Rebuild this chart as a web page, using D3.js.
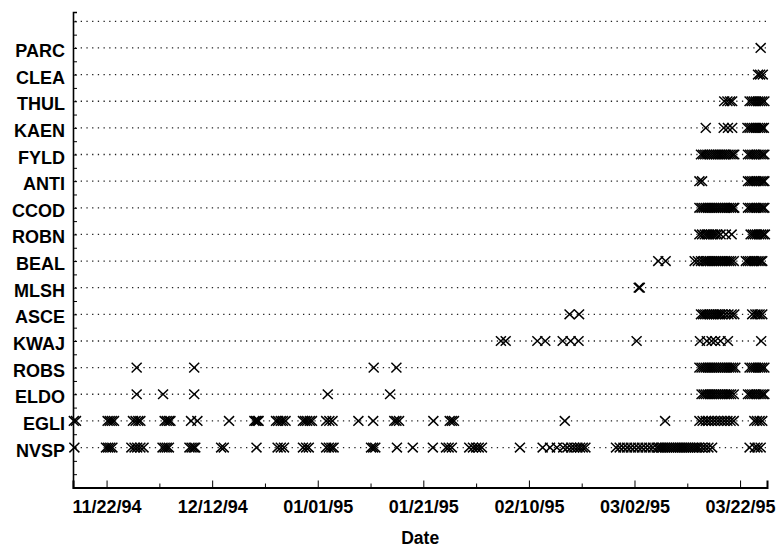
<!DOCTYPE html>
<html>
<head>
<meta charset="utf-8">
<script src="https://cdn.jsdelivr.net/npm/d3@7"></script>
<style>
  html, body { margin: 0; padding: 0; background: #fff; }
  svg { display: block; font-family: "Liberation Sans", Arial, sans-serif; }
</style>
</head>
<body>
<svg id="chart" width="777" height="548"></svg>
<script>
// ---- data (day offsets from 11/22/94) ----
const stations = ["NVSP","EGLI","ELDO","ROBS","KWAJ","ASCE","MLSH","BEAL","ROBN","CCOD","ANTI","FYLD","KAEN","THUL","CLEA","PARC"];
const tickLabels = ["11/22/94","12/12/94","01/01/95","01/21/95","02/10/95","03/02/95","03/22/95"];
const minorTickLabels = ["12/02/94","12/22/94","01/11/95","01/31/95","02/20/95","03/12/95"];
const xTitle = "Date";

const NVSP = [-6.1, -0.1, 0.3, 0.7, 1.1, 4.7, 5.3, 5.8, 6.4, 7.0, 10.6, 11.0, 11.4, 11.8, 15.7, 16.1, 16.5, 16.8, 21.7, 22.2, 28.4, 32.4, 33.0, 33.6, 37.2, 37.8, 38.3, 41.6, 42.1, 42.6, 43.0, 50.1, 50.5, 50.9, 55.0, 58.0, 61.8, 64.3, 64.8, 65.4, 68.7, 69.4, 70.0, 70.5, 71.1, 78.3, 82.6, 84.0, 85.3, 86.5, 87.3, 88.0, 88.6, 89.2, 89.7, 90.2, 90.7,
  96.5, 97.2, 97.9, 98.6, 99.3, 100.0, 100.7, 101.4, 102.1, 102.8, 103.5, 104.2, 104.6, 105.0, 105.4, 105.8, 106.2, 106.6, 107.0, 107.4, 107.8, 108.2, 108.6, 109.0, 109.4, 109.8, 110.2, 110.6, 111.0, 111.4, 111.8, 112.2, 112.8, 113.4, 114.0, 114.7, 121.8, 122.8, 123.3, 123.9];
const EGLI = [-6.2, -5.8, 0.2, 0.6, 1.0, 1.4, 5.0, 5.5, 6.0, 6.4, 11.0, 11.4, 11.8, 12.1, 16.0, 17.2, 23.2, 28.0, 28.3, 28.6, 28.8, 32.1, 32.5, 33.0, 33.4, 33.9, 37.2, 37.6, 38.0, 38.5, 38.9, 41.6, 42.2, 42.8, 47.7, 50.5, 54.5, 54.9, 55.4, 61.9, 65.0, 65.4, 65.8, 86.8, 105.8,
  112.3, 112.9, 113.5, 114.0, 114.6, 115.2, 115.8, 116.4, 117.0, 117.6, 118.2, 118.8, 122.7, 123.2, 123.7, 124.2];
const ELDO = [5.7, 10.7, 16.6, 41.9, 53.7, 112.7, 113.1, 113.5, 113.9, 114.3, 114.7, 115.1, 115.5, 115.9, 116.3, 116.7, 117.1, 117.5, 117.9, 118.3, 118.8, 121.5, 121.9, 122.3, 122.7, 123.1, 123.5, 123.9, 124.3, 124.6];
const ROBS = [5.7, 16.6, 50.6, 54.9, 112.3, 112.7, 113.1, 113.5, 113.9, 114.3, 114.7, 115.1, 115.5, 115.9, 116.3, 116.7, 117.1, 117.5, 117.9, 118.3, 118.7, 119.1, 121.8, 122.2, 122.6, 123.0, 123.4, 123.8, 124.2, 124.6];
const KWAJ = [74.7, 75.6, 81.6, 83.1, 86.4, 87.9, 89.4, 100.4, 112.4, 113.7, 114.6, 115.3, 116.3, 117.7, 124.0];
const ASCE = [87.7, 89.5, 112.6, 113.0, 113.4, 113.8, 114.2, 114.6, 115.0, 115.4, 115.8, 116.2, 116.6, 117.2, 117.8, 118.4, 118.9, 122.3, 122.9, 123.3, 123.7, 124.2];
const MLSH = [100.8, 101.0];
const BEAL = [104.5, 105.9, 111.4, 112.0, 112.6, 113.1, 113.5, 113.9, 114.3, 114.7, 115.1, 115.5, 115.9, 116.3, 116.7, 117.1, 117.5, 117.9, 118.3, 118.8, 121.1, 121.5, 121.9, 122.3, 122.7, 123.1, 123.5, 123.9, 124.2];
const ROBN = [112.3, 112.8, 113.3, 113.7, 114.1, 114.5, 114.9, 115.3, 115.7, 116.3, 117.3, 118.4, 122.0, 122.4, 122.8, 123.2, 123.6, 124.0, 124.4, 124.7];
const CCOD = [112.3, 112.7, 113.1, 113.5, 113.9, 114.3, 114.7, 115.1, 115.5, 115.9, 116.3, 116.7, 117.1, 117.5, 117.9, 118.3, 118.7, 118.9, 121.5, 121.9, 122.3, 122.7, 123.1, 123.5, 123.9, 124.3, 124.6];
const ANTI = [112.3, 112.8, 121.5, 121.9, 122.3, 122.7, 123.1, 123.5, 123.9, 124.3, 124.6];
const FYLD = [112.6, 113.0, 113.4, 113.8, 114.2, 114.6, 115.0, 115.4, 115.8, 116.2, 116.6, 117.0, 117.4, 117.8, 118.2, 118.6, 118.9, 121.5, 121.9, 122.3, 122.7, 123.1, 123.5, 123.9, 124.3, 124.6];
const KAEN = [113.5, 116.9, 117.7, 118.5, 121.4, 121.8, 122.2, 122.6, 123.0, 123.4, 123.8, 124.2, 124.5];
const THUL = [117.0, 117.6, 118.1, 118.5, 121.8, 122.2, 122.6, 123.0, 123.4, 123.8, 124.2, 124.6];
const CLEA = [123.4, 123.8, 124.3];
const PARC = [123.9];

const seriesByStation = {NVSP, EGLI, ELDO, ROBS, KWAJ, ASCE, MLSH, BEAL, ROBN, CCOD, ANTI, FYLD, KAEN, THUL, CLEA, PARC};

(function draw() {
  const parse = d3.utcParse("%m/%d/%y");
  const base = Date.UTC(1994, 10, 22);
  const DAY = 864e5;
  const toDate = d => new Date(base + d * DAY);

  const pL = 73, pR = 767, pT = 12, pB = 487.5;

  const x = d3.scaleUtc()
    .domain([toDate(-6.36), toDate(125.1)])
    .range([pL, pR]);

  const y = d3.scaleLinear()
    .domain([-0.5, 17.35])
    .range([pB, pT]);

  const svg = d3.select("#chart");
  svg.append("rect").attr("width", 777).attr("height", 548).attr("fill", "#fff");

  // dotted row lines
  const rowIdx = d3.range(1, stations.length + 2);
  svg.append("g").selectAll("line").data(rowIdx).join("line")
    .attr("x1", pL + 2).attr("x2", pR)
    .attr("y1", d => y(d)).attr("y2", d => y(d))
    .attr("stroke", "#222").attr("stroke-width", 1.3)
    .attr("stroke-dasharray", "1.3,4.4");

  // markers
  const pts = [];
  stations.forEach((s, i) => seriesByStation[s].forEach(d => pts.push({s, k: i + 1, date: toDate(d)})));
  svg.append("g").selectAll("path").data(pts).join("path")
    .attr("transform", d => `translate(${x(d.date)},${y(d.k)})`)
    .attr("d", "M-5,-4.8L5,4.8M-5,4.8L5,-4.8")
    .attr("fill", "none").attr("stroke", "#000").attr("stroke-width", 1.5);

  // y axis: half-unit ticks pointing inward
  const halfTicks = d3.range(-0.5, 17.01, 0.5);
  const yAxisG = svg.append("g").attr("transform", `translate(${pL},0)`)
    .call(d3.axisLeft(y).tickValues(halfTicks).tickSize(-4).tickFormat(""));
  yAxisG.select(".domain").attr("stroke-width", 1.6);
  yAxisG.selectAll(".tick line").attr("stroke-width", 1);

  // y labels
  const yLab = svg.append("g").attr("transform", `translate(${pL},0)`)
    .call(d3.axisLeft(y).tickValues(d3.range(1, stations.length + 1)).tickSize(0).tickPadding(8)
      .tickFormat(d => stations[d - 1]));
  yLab.select(".domain").remove();
  yLab.selectAll("text")
    .attr("font-family", "Liberation Sans, Arial, sans-serif")
    .attr("font-size", 18).attr("font-weight", "bold").attr("fill", "#000")
    .attr("dy", 8.5);

  // x axis: major ticks with labels
  const majorDates = tickLabels.map(parse);
  const xAxisG = svg.append("g").attr("transform", `translate(0,${pB})`)
    .call(d3.axisBottom(x).tickValues(majorDates).tickSize(-7).tickPadding(13)
      .tickFormat(d3.utcFormat("%m/%d/%y")));
  xAxisG.select(".domain").attr("stroke-width", 2);
  xAxisG.selectAll("text")
    .attr("font-family", "Liberation Sans, Arial, sans-serif")
    .attr("font-size", 18).attr("font-weight", "bold").attr("fill", "#000");

  // minor x ticks
  const minorG = svg.append("g").attr("transform", `translate(0,${pB})`)
    .call(d3.axisBottom(x).tickValues(minorTickLabels.map(parse)).tickSize(-4).tickFormat(""));
  minorG.select(".domain").remove();

  // x title
  svg.append("text")
    .attr("x", x(toDate(59.4))).attr("y", 543.5)
    .attr("text-anchor", "middle")
    .attr("font-size", 17.5).attr("font-weight", "bold").attr("fill", "#000")
    .text(xTitle);
})();
</script>
</body>
</html>
